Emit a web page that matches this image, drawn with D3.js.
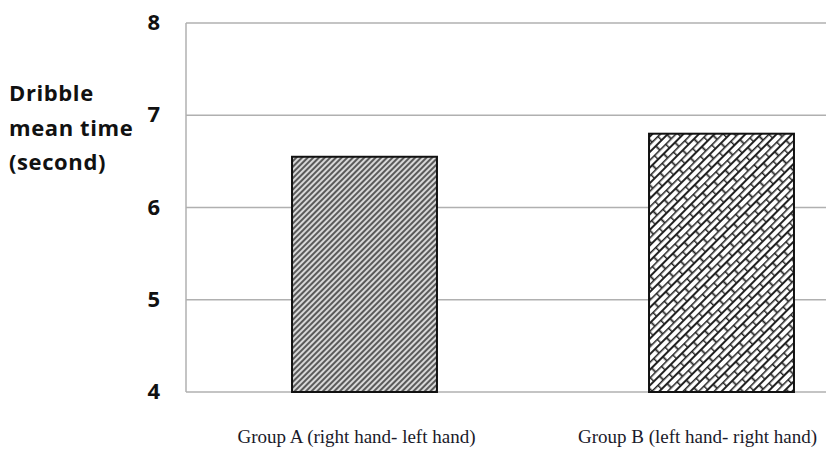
<!DOCTYPE html>
<html>
<head>
<meta charset="utf-8">
<script src="https://cdn.jsdelivr.net/npm/d3@7"></script>
<style>
  body { margin: 0; background: #fff; }
  svg { display: block; }
</style>
</head>
<body>
<div id="chart"></div>
<script>
// data
const groups = ["Group A (right hand- left hand)", "Group B (left hand- right hand)"];
const meanTimes = [6.55, 6.8];
const yTicks = [4, 5, 6, 7, 8];
const titleLines = ["Dribble", "mean time", "(second)"];

const W = 826, H = 449;
const plot = { left: 186, right: 900, top: 23, bottom: 392 };
const labelShift = [-8, -24]; // category labels sit a bit left of the bars

const svg = d3.select("#chart").append("svg")
  .attr("width", W).attr("height", H);

// patterns
const defs = svg.append("defs");
const hatch = defs.append("pattern")
  .attr("id", "hatch")
  .attr("patternUnits", "userSpaceOnUse")
  .attr("width", 4).attr("height", 4)
  .attr("patternTransform", "rotate(45)");
hatch.append("rect").attr("width", 4).attr("height", 4).attr("fill", "#d8d8d8");
hatch.append("line")
  .attr("x1", 1).attr("y1", 0).attr("x2", 1).attr("y2", 4)
  .attr("stroke", "#3a3a3a").attr("stroke-width", 1.6);

const brick = defs.append("pattern")
  .attr("id", "brick")
  .attr("patternUnits", "userSpaceOnUse")
  .attr("width", 16).attr("height", 11)
  .attr("patternTransform", "rotate(-45)");
brick.append("rect").attr("width", 16).attr("height", 11).attr("fill", "#fff");
brick.append("path")
  .attr("d", "M0,0.5H16M0,6H16M0.5,0.5V6M8.5,6V11.5")
  .attr("stroke", "#222").attr("stroke-width", 1.8).attr("fill", "none");

const x = d3.scaleBand()
  .domain(groups)
  .range([plot.left, plot.right])
  .paddingInner(0.594)
  .paddingOuter(0.297);

const y = d3.scaleLinear()
  .domain([4, 8])
  .range([plot.bottom, plot.top]);

// gridlines
svg.append("g")
  .selectAll("line")
  .data(yTicks)
  .join("line")
  .attr("x1", plot.left).attr("x2", W)
  .attr("y1", d => y(d)).attr("y2", d => y(d))
  .attr("stroke", "#b0b0b0").attr("stroke-width", 1.5);

svg.append("line")
  .attr("x1", plot.left).attr("x2", plot.left)
  .attr("y1", y(8)).attr("y2", y(4))
  .attr("stroke", "#b0b0b0").attr("stroke-width", 1.5);

// y tick labels
const yAxis = d3.axisLeft(y).tickValues(yTicks).tickFormat(d3.format("d"))
  .tickSize(0).tickPadding(26);
svg.append("g")
  .attr("transform", `translate(${plot.left},0)`)
  .call(yAxis)
  .call(g => g.select(".domain").remove())
  .selectAll("text")
  .attr("font-family", "'Open Sans', sans-serif")
  .attr("font-weight", "bold")
  .attr("font-size", 22)
  .attr("fill", "#111")
  .attr("dy", "0.3em");

// bars
const fills = ["url(#hatch)", "url(#brick)"];
svg.append("g")
  .selectAll("rect")
  .data(groups)
  .join("rect")
  .attr("x", d => x(d))
  .attr("y", (d, i) => y(meanTimes[i]))
  .attr("width", x.bandwidth())
  .attr("height", (d, i) => y(4) - y(meanTimes[i]))
  .attr("fill", (d, i) => fills[i])
  .attr("stroke", "#111")
  .attr("stroke-width", 2);

// category labels
svg.append("g")
  .selectAll("text")
  .data(groups)
  .join("text")
  .attr("x", (d, i) => x(d) + x.bandwidth() / 2 + labelShift[i])
  .attr("y", 443)
  .attr("text-anchor", "middle")
  .attr("font-family", "'Liberation Serif', serif")
  .attr("font-size", 19)
  .attr("fill", "#1a1a2a")
  .text(d => d);

// y title
svg.append("text")
  .attr("font-family", "'Open Sans', sans-serif")
  .attr("font-weight", "bold")
  .attr("font-size", 22)
  .attr("letter-spacing", 0.6)
  .attr("fill", "#111")
  .selectAll("tspan")
  .data(titleLines)
  .join("tspan")
  .attr("x", 9)
  .attr("y", (d, i) => 101 + i * 34.5)
  .text(d => d);
</script>
</body>
</html>
